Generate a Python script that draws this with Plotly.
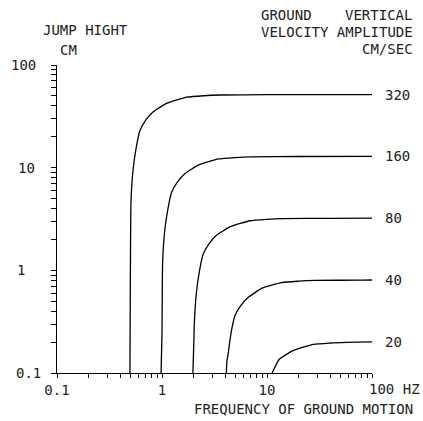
import math
import plotly.graph_objects as go

# ---- data ----
velocity_labels = ["320", "160", "80", "40", "20"]

freq_320 = [0.495, 0.50, 0.507, 0.53, 0.57, 0.617, 0.70, 0.82, 1.12, 1.73, 2.5, 3.57, 10, 100]
jump_320 = [0.1, 1.0, 4.8, 9.5, 16, 23, 29, 34.8, 42.6, 48.6, 50.2, 51, 51.4, 51.5]

freq_160 = [0.98, 1.0, 1.014, 1.06, 1.14, 1.234, 1.4, 1.64, 2.24, 3.46, 5.0, 7.14, 20, 100]
jump_160 = [0.1, 0.25, 1.2, 2.4, 4.0, 5.75, 7.25, 8.7, 10.65, 12.15, 12.55, 12.75, 12.85, 12.9]

freq_80 = [1.97, 2.01, 2.03, 2.12, 2.28, 2.47, 2.8, 3.28, 4.48, 6.92, 10, 14.3, 40, 100]
jump_80 = [0.1, 0.2, 0.3, 0.59, 1.0, 1.44, 1.81, 2.18, 2.66, 3.04, 3.14, 3.19, 3.21, 3.22]

freq_40 = [4.1, 4.15, 4.24, 4.56, 4.94, 5.6, 6.56, 8.96, 13.8, 20, 28.6, 80, 100]
jump_40 = [0.1, 0.13, 0.148, 0.25, 0.36, 0.45, 0.54, 0.67, 0.76, 0.784, 0.797, 0.803, 0.805]

freq_20 = [11.2, 13.1, 17.9, 27.7, 40, 57, 100]
jump_20 = [0.1, 0.136, 0.166, 0.19, 0.196, 0.199, 0.201]

x_major = [0.1, 1, 10, 100]
x_major_text = ["0.1", "1", "10", ""]
y_major = [0.1, 1, 10, 100]
y_major_text = ["0.1", "1", "10", "100"]
minor_mult = [2, 3, 4, 5, 6, 7, 8, 9]

series = [(freq_320, jump_320), (freq_160, jump_160), (freq_80, jump_80),
          (freq_40, jump_40), (freq_20, jump_20)]

FONT = "DejaVu Sans Mono"
TXT = "#222222"
FS = 14

fig = go.Figure()
for (fx, hy), lab in zip(series, velocity_labels):
    fig.add_trace(go.Scatter(x=fx, y=hy, mode="lines",
                             line=dict(color="black", width=1.3, shape="spline", smoothing=0.5),
                             showlegend=False, hoverinfo="skip"))
    fig.add_annotation(x=math.log10(fx[-1]), y=math.log10(hy[-1]), xref="x", yref="y",
                       text=lab, showarrow=False, xanchor="left", yanchor="middle",
                       xshift=11, font=dict(family=FONT, size=FS, color=TXT))

minor_vals = [d * m for d in [0.1, 1, 10] for m in minor_mult]
x_tickvals = x_major + minor_vals
x_ticktext = x_major_text + [""] * len(minor_vals)
y_tickvals = y_major + minor_vals

fig.update_xaxes(type="log", range=[-1, 2], showgrid=False, zeroline=False,
                 showline=True, linecolor="black", linewidth=1,
                 ticks="outside", ticklen=4, tickcolor="black", tickwidth=1,
                 tickvals=x_tickvals, ticktext=x_ticktext,
                 tickfont=dict(family=FONT, size=FS, color=TXT))
fig.update_yaxes(type="log", range=[-1, 2], showgrid=False, zeroline=False,
                 showline=True, linecolor="black", linewidth=1,
                 ticks="outside", ticklen=5, tickcolor="black", tickwidth=1,
                 tickvals=y_tickvals, showticklabels=False)

# y tick labels (the reference places them irregularly)
y_label_shift = [-14, -30, -20, -19]
for v, t, s in zip(y_major, y_major_text, y_label_shift):
    fig.add_annotation(x=0, y=math.log10(v), xref="paper", yref="y", text=t,
                       showarrow=False, xanchor="right", yanchor="middle", xshift=s,
                       font=dict(family=FONT, size=FS, color=TXT))

# "100 HZ" end label
fig.add_annotation(x=2, y=0, xref="x", yref="paper", text="100 HZ", showarrow=False,
                   xanchor="left", yanchor="top", xshift=-5, yshift=-6,
                   font=dict(family=FONT, size=FS, color=TXT))

L, R, T, B = 57, 51, 65, 48
fig.update_layout(width=423, height=421, margin=dict(l=L, r=R, t=T, b=B),
                  paper_bgcolor="white", plot_bgcolor="white")

def ftext(text, px, py, xanchor):
    w, h = 423 - L - R, 421 - T - B
    fig.add_annotation(x=(px - L) / w, y=(421 - B - py) / h, xref="paper", yref="paper",
                       text=text, showarrow=False, xanchor=xanchor, yanchor="middle",
                       font=dict(family=FONT, size=FS, color=TXT))

ftext("JUMP HIGHT", 41, 30, "left")
ftext("CM", 58, 50, "left")
ftext("GROUND", 259, 15, "left")
ftext("VERTICAL", 414, 15, "right")
ftext("VELOCITY AMPLITUDE", 415, 32, "right")
ftext("CM/SEC", 415, 49, "right")
ftext("FREQUENCY OF GROUND MOTION", 415, 409, "right")

fig.write_html("out.html", config={"displayModeBar": False},
               post_script="document.body.style.margin='0';document.body.style.overflow='hidden';")
